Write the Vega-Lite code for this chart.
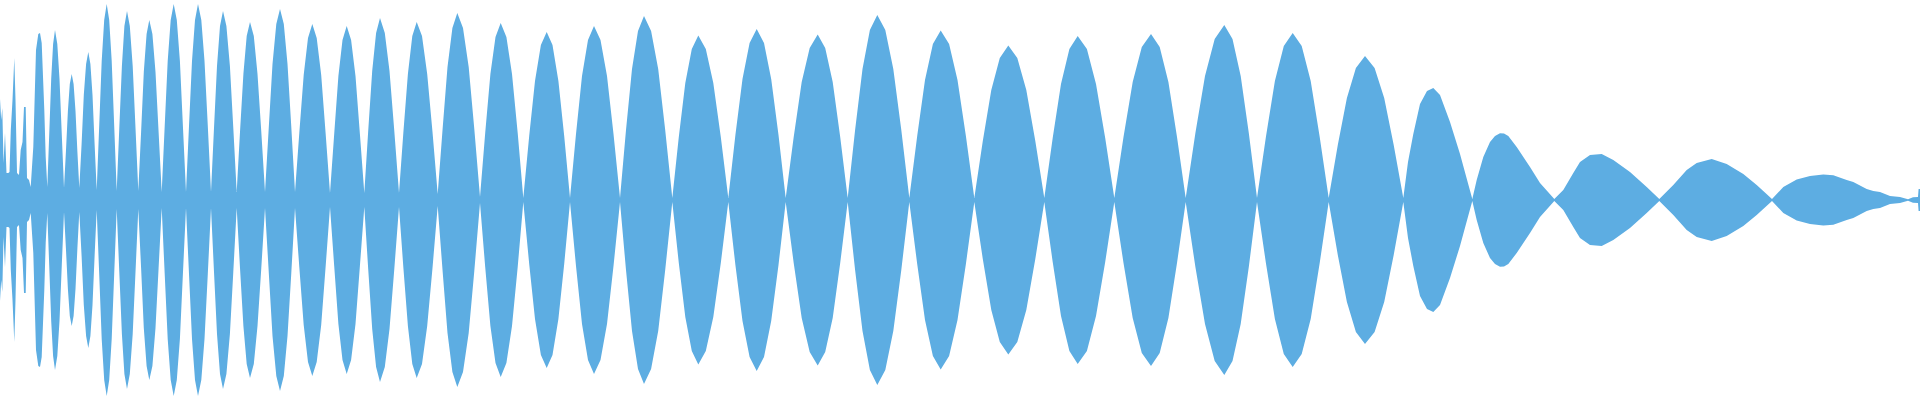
{
"$schema":"https://vega.github.io/schema/vega-lite/v6.json",
"width":1920,"height":400,
"autosize":{"type":"fit","contains":"padding"},
"padding":0,
"background":"white",
"config":{"view":{"stroke":null}},
"data":{"values":[
{"x":0,"a":101},{"x":1.2,"a":80},{"x":2.3,"a":92},{"x":3.5,"a":37},{"x":5,"a":67},{"x":6.5,"a":27},{"x":8.3,"a":27},{"x":9.5,"a":28},{"x":10.8,"a":70},{"x":12.5,"a":100},{"x":14.3,"a":142},{"x":15.5,"a":100},{"x":17,"a":27},{"x":19,"a":25},{"x":20.7,"a":50},{"x":22.5,"a":58},{"x":24,"a":93},{"x":25.7,"a":93},{"x":27,"a":22},{"x":29,"a":20},{"x":30.7,"a":13},{"x":33.3,"a":53},{"x":36,"a":150},{"x":38.3,"a":166},{"x":40,"a":167},{"x":41.7,"a":157},{"x":44.3,"a":90},{"x":45.7,"a":43},{"x":47.3,"a":13},
{"x":49.2,"a":65},{"x":51.2,"a":121},{"x":53.1,"a":156},{"x":55,"a":170},{"x":57.3,"a":156},{"x":59.5,"a":121},{"x":61.8,"a":65},{"x":64,"a":12},
{"x":65.9,"a":48},{"x":67.9,"a":89},{"x":69.8,"a":116},{"x":71.7,"a":126},{"x":73.6,"a":116},{"x":75.5,"a":89},{"x":77.4,"a":48},{"x":79.3,"a":12},
{"x":81.6,"a":56},{"x":83.8,"a":105},{"x":86.1,"a":136},{"x":88.3,"a":148},{"x":90.4,"a":136},{"x":92.5,"a":105},{"x":94.6,"a":56},{"x":96.7,"a":10},
{"x":99.2,"a":74},{"x":101.7,"a":139},{"x":104.2,"a":180},{"x":106.7,"a":196},{"x":109.2,"a":180},{"x":111.7,"a":139},{"x":114.2,"a":74},{"x":116.7,"a":9},
{"x":119.3,"a":72},{"x":121.9,"a":134},{"x":124.4,"a":174},{"x":127,"a":189},{"x":129.8,"a":174},{"x":132.7,"a":134},{"x":135.5,"a":72},{"x":138.3,"a":9},
{"x":141.1,"a":68},{"x":143.8,"a":128},{"x":146.6,"a":166},{"x":149.3,"a":180},{"x":152.4,"a":166},{"x":155.5,"a":128},{"x":158.6,"a":68},{"x":161.7,"a":8},
{"x":164.7,"a":74},{"x":167.7,"a":139},{"x":170.7,"a":180},{"x":173.7,"a":196},{"x":176.8,"a":180},{"x":179.9,"a":139},{"x":182.9,"a":74},{"x":186,"a":8},
{"x":189,"a":74},{"x":192,"a":139},{"x":195,"a":180},{"x":198,"a":196},{"x":201.3,"a":180},{"x":204.5,"a":139},{"x":207.8,"a":74},{"x":211,"a":8},
{"x":214,"a":72},{"x":217,"a":134},{"x":220,"a":174},{"x":223,"a":189},{"x":226.4,"a":174},{"x":229.9,"a":134},{"x":233.3,"a":72},{"x":236.7,"a":8},
{"x":240,"a":68},{"x":243.4,"a":126},{"x":246.7,"a":164},{"x":250,"a":178},{"x":253.8,"a":164},{"x":257.5,"a":126},{"x":261.3,"a":68},{"x":265,"a":8},
{"x":268.8,"a":73},{"x":272.5,"a":136},{"x":276.3,"a":176},{"x":280,"a":191},{"x":283.8,"a":176},{"x":287.5,"a":136},{"x":291.3,"a":73},{"x":295,"a":8},
{"x":299.3,"a":67},{"x":303.7,"a":125},{"x":308,"a":162},{"x":312.3,"a":176},{"x":316.7,"a":162},{"x":321.2,"a":125},{"x":325.6,"a":67},{"x":330,"a":7},
{"x":334.2,"a":66},{"x":338.4,"a":124},{"x":342.5,"a":160},{"x":346.7,"a":174},{"x":351.1,"a":160},{"x":355.5,"a":124},{"x":359.9,"a":66},{"x":364.3,"a":7},
{"x":368.2,"a":69},{"x":372.2,"a":129},{"x":376.1,"a":167},{"x":380,"a":182},{"x":384.8,"a":167},{"x":389.5,"a":129},{"x":394.3,"a":69},{"x":399,"a":7},
{"x":403.4,"a":68},{"x":407.9,"a":126},{"x":412.3,"a":164},{"x":416.7,"a":178},{"x":422,"a":164},{"x":427.2,"a":126},{"x":432.5,"a":68},{"x":437.7,"a":6},
{"x":442.6,"a":71},{"x":447.5,"a":133},{"x":452.4,"a":172},{"x":457.3,"a":187},{"x":463,"a":172},{"x":468.7,"a":133},{"x":474.3,"a":71},{"x":480,"a":3},
{"x":485.2,"a":67},{"x":490.4,"a":126},{"x":495.5,"a":163},{"x":500.7,"a":177},{"x":506.4,"a":163},{"x":512,"a":126},{"x":517.7,"a":67},{"x":523.3,"a":2},
{"x":529.2,"a":64},{"x":535,"a":119},{"x":540.9,"a":155},{"x":546.7,"a":168},{"x":552.5,"a":155},{"x":558.4,"a":119},{"x":564.2,"a":64},{"x":570,"a":2},
{"x":576,"a":66},{"x":582,"a":124},{"x":588,"a":160},{"x":594,"a":174},{"x":600.5,"a":160},{"x":607,"a":124},{"x":613.5,"a":66},{"x":620,"a":2},
{"x":626,"a":70},{"x":632,"a":131},{"x":638,"a":169},{"x":644,"a":184},{"x":651.1,"a":169},{"x":658.2,"a":131},{"x":665.2,"a":70},{"x":672.3,"a":2},
{"x":678.8,"a":63},{"x":685.3,"a":117},{"x":691.8,"a":151},{"x":698.3,"a":164.5},{"x":705.8,"a":151},{"x":713.3,"a":117},{"x":720.8,"a":63},{"x":728.3,"a":2},
{"x":735.4,"a":65},{"x":742.5,"a":121},{"x":749.6,"a":157},{"x":756.7,"a":171},{"x":764,"a":157},{"x":771.2,"a":121},{"x":778.5,"a":65},{"x":785.7,"a":2},
{"x":793.7,"a":63},{"x":801.7,"a":118},{"x":809.7,"a":152},{"x":817.7,"a":165.5},{"x":825.2,"a":152},{"x":832.7,"a":118},{"x":840.2,"a":63},{"x":847.7,"a":2},
{"x":855.1,"a":70},{"x":862.5,"a":131},{"x":869.9,"a":170},{"x":877.3,"a":185},{"x":885.3,"a":170},{"x":893.3,"a":131},{"x":901.3,"a":70},{"x":909.3,"a":2},
{"x":917.2,"a":64},{"x":925,"a":120},{"x":932.9,"a":156},{"x":940.7,"a":169.5},{"x":949.1,"a":156},{"x":957.5,"a":120},{"x":965.9,"a":64},{"x":974.3,"a":2},
{"x":982.8,"a":59},{"x":991.3,"a":110},{"x":999.8,"a":142},{"x":1008.3,"a":154.5},{"x":1017.3,"a":142},{"x":1026.3,"a":110},{"x":1035.3,"a":59},{"x":1044.3,"a":2},
{"x":1052.7,"a":62},{"x":1061,"a":116},{"x":1069.4,"a":151},{"x":1077.7,"a":164},{"x":1086.9,"a":151},{"x":1096,"a":116},{"x":1105.2,"a":62},{"x":1114.3,"a":2},
{"x":1123.5,"a":63},{"x":1132.7,"a":118},{"x":1141.8,"a":153},{"x":1151,"a":166},{"x":1159.7,"a":153},{"x":1168.4,"a":118},{"x":1177,"a":63},{"x":1185.7,"a":2},
{"x":1195.4,"a":67},{"x":1205,"a":124},{"x":1214.7,"a":161},{"x":1224.3,"a":175},{"x":1232.5,"a":161},{"x":1240.7,"a":124},{"x":1248.8,"a":67},{"x":1257,"a":2},
{"x":1265.9,"a":63},{"x":1274.9,"a":119},{"x":1283.8,"a":154},{"x":1292.7,"a":167},{"x":1301.7,"a":154},{"x":1310.7,"a":119},{"x":1319.7,"a":63},{"x":1328.7,"a":2},
{"x":1337.8,"a":55},{"x":1346.9,"a":102},{"x":1355.9,"a":132},{"x":1365,"a":144},{"x":1374.6,"a":132},{"x":1384.2,"a":102},{"x":1393.7,"a":55},{"x":1403.3,"a":2},
{"x":1408,"a":38},{"x":1413.3,"a":66},{"x":1420,"a":96},{"x":1427,"a":109},{"x":1433.3,"a":112},{"x":1440,"a":105},{"x":1450,"a":78},{"x":1460,"a":46},{"x":1466,"a":24},{"x":1472.3,"a":1},
{"x":1476.7,"a":20},{"x":1483.3,"a":43},{"x":1490,"a":58},{"x":1495,"a":64},{"x":1500,"a":66.7},{"x":1504,"a":66.5},{"x":1508.3,"a":64},{"x":1516.7,"a":53},{"x":1530,"a":33},{"x":1540,"a":17},{"x":1554.3,"a":1},
{"x":1563.3,"a":10},{"x":1573.3,"a":27},{"x":1580,"a":38},{"x":1590,"a":45},{"x":1601.7,"a":46},{"x":1613.3,"a":40},{"x":1630,"a":28},{"x":1646.7,"a":13},{"x":1659.3,"a":1},
{"x":1673.3,"a":15},{"x":1686.7,"a":30},{"x":1696.7,"a":37},{"x":1711.7,"a":41},{"x":1726.7,"a":36},{"x":1743.3,"a":26},{"x":1756.7,"a":15},{"x":1772,"a":1},
{"x":1783.3,"a":13},{"x":1796.7,"a":20.5},{"x":1810,"a":24},{"x":1823.3,"a":25.5},{"x":1833.3,"a":24.7},{"x":1846.7,"a":20},{"x":1853.3,"a":18},{"x":1866.7,"a":11},{"x":1873.3,"a":9},{"x":1880,"a":8},{"x":1890,"a":4},{"x":1900,"a":3},{"x":1908,"a":0.7},{"x":1913,"a":2.7},{"x":1918,"a":3},{"x":1918.6,"a":11},{"x":1920,"a":11}
]},
"layer":[
{"mark":{"type":"area","color":"#5dade2","interpolate":"linear"},
 "encoding":{
  "x":{"field":"x","type":"quantitative","scale":{"domain":[0,1920],"nice":false,"zero":false},"axis":null},
  "y":{"field":"a","type":"quantitative","scale":{"domain":[-200,200],"nice":false},"axis":null},
  "y2":{"datum":0}}},
{"mark":{"type":"area","color":"#5dade2","interpolate":"linear"},
 "encoding":{
  "x":{"field":"x","type":"quantitative","scale":{"domain":[0,1920],"nice":false,"zero":false},"axis":null},
  "y":{"field":"a","type":"quantitative","scale":{"domain":[-200,200],"nice":false,"reverse":true},"axis":null},
  "y2":{"datum":0}}}
],
"resolve":{"scale":{"y":"independent"}}
}
